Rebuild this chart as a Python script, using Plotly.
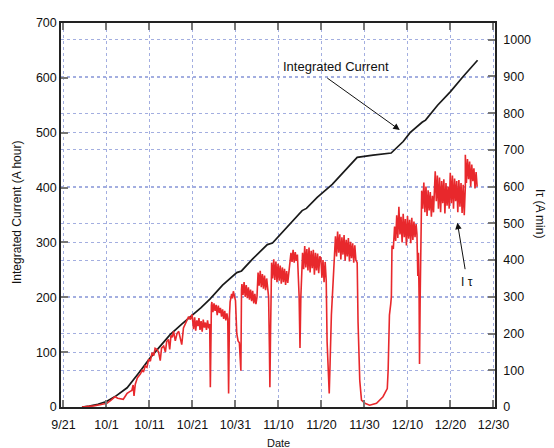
import plotly.graph_objects as go

# ---------------- data (days since 9/21) ----------------
tick_days = [0, 10, 20, 30, 40, 50, 60, 70, 80, 90, 100]
tick_labels = ["9/21", "10/1", "10/11", "10/21", "10/31", "11/10", "11/20", "11/30", "12/10", "12/20", "12/30"]

# Integrated current (A hour), left axis
int_days = [4.3, 6, 8, 10, 12, 14.8, 17.5, 20.2, 22.5, 24.8, 27.5, 30.2, 32, 34.1, 37, 40.3, 41.4,
            44, 47.4, 48.6, 50.7, 53, 55.5, 56.5, 59, 62.5, 65, 68.3, 72, 76.2, 79, 80.6, 83.4,
            84.2, 87, 90, 93, 96.3]
int_vals = [0, 1.5, 5, 10, 19, 35, 62, 90, 111, 132, 151, 168, 181, 197, 222, 245, 248,
            270, 296, 299, 317, 338, 358, 362, 382, 406, 428, 455, 459, 463, 484, 500, 519,
            523, 550, 575, 603, 632]

# I tau (A min), right axis -- ramp-up (explicit times)
ramp_days = [4.3, 5.5, 7.0, 8.5, 10.1, 11.0, 12.0, 12.6, 13.2, 13.9, 14.4, 14.8, 15.4, 15.9, 16.2,
             16.4, 16.7, 17.2, 17.9, 18.3, 18.6, 19.0, 19.4, 19.8, 20.2, 20.6, 21.0, 21.3, 21.7,
             22.1, 22.5, 22.8, 23.3, 23.7, 24.0, 24.4, 24.7, 25.0, 25.3, 25.6, 26.0, 26.4, 26.8,
             27.1, 27.5, 27.9, 28.3, 28.7, 29.1, 29.5, 29.9]
ramp_vals = [0, 1, 3, 6, 10, 18, 28, 24, 22, 21, 30, 37, 42, 45, 60,
             30, 62, 80, 90, 100, 95, 112, 108, 130, 125, 148, 140, 160, 157,
             150, 126, 160, 166, 150, 178, 184, 157, 195, 190, 206, 180, 200, 206,
             190, 170, 215, 224, 235, 246, 238, 252]

# noisy running bands: (start day, values every 0.25 day)
bandB_start, bandB = 30.0, [240, 212, 244, 208, 236, 220, 242, 210, 234, 205, 238, 216, 230, 210, 236, 214, 226]
gap1_days, gap1_vals = [34.15, 34.4], [54, 277]
bandC_start, bandC = 34.5, [286, 258, 282, 262, 278, 250, 276, 256, 270, 246, 266, 240, 262, 236, 255]
gap2_days = [38.2, 38.4, 38.6, 38.75, 39.1, 39.3, 39.5, 39.8, 40.0, 40.3, 40.6, 40.9, 41.1, 41.25, 41.4]
gap2_vals = [240, 37, 250, 286, 308, 296, 315, 300, 290, 200, 180, 175, 140, 99, 320]
bandD_start, bandD = 41.5, [335, 305, 340, 300, 332, 296, 326, 292, 320, 288, 316, 282, 308, 280]
gap3_days, gap3_vals = [45.0], [300]
bandD2_start, bandD2 = 45.25, [366, 330, 371, 326, 362, 322, 358, 318, 350, 325]
gap4_days, gap4_vals = [47.7, 47.9, 48.0, 48.15, 48.3], [300, 152, 54, 200, 348]
bandE_start, bandE = 48.4, [393, 350, 402, 346, 396, 340, 390, 344, 385, 336, 380, 340, 376, 332, 370, 338, 366]
bandE2_start, bandE2 = 52.9, [420, 395, 428, 393, 422, 398, 415]
gap5_days, gap5_vals = [54.8, 55.0, 55.2, 55.4], [300, 161, 300, 375]
bandF_start, bandF = 55.6, [420, 375, 438, 380, 430, 372, 434, 366, 425, 378, 428, 360, 420, 372, 418, 364, 410]
bandF2_start, bandF2 = 59.85, [406, 352, 400, 340, 395, 345]
gap6_days = [61.3, 61.6, 61.8, 62.0, 62.3, 62.7, 63.0]
gap6_vals = [179, 60, 37, 120, 250, 340, 420]
bandG_start, bandG = 63.25, [465, 410, 478, 420, 470, 402, 462, 415, 468, 398, 455, 410, 460, 396, 450, 405, 446, 393, 440, 400]
gap7_days = [68.3, 68.5, 68.9, 69.3, 70.1, 71.2, 72.8, 74.3, 75.3, 75.5, 75.6, 75.8, 76.1, 76.25, 76.4, 76.7]
gap7_vals = [393, 232, 72, 19, 10, 5, 10, 28, 50, 100, 170, 250, 280, 300, 440, 430]
bandH_start, bandH = 77.0, [491, 452, 522, 460, 545, 470, 518, 448, 526, 462, 512, 440, 520, 458, 510, 446, 515, 455, 505, 462, 498]
gap8_days = [82.2, 82.4, 82.55, 82.7, 82.8, 82.95, 83.1]
gap8_vals = [470, 357, 420, 300, 117, 300, 500]
bandI1_start, bandI1 = 83.3, [589, 540, 611, 530, 600, 520, 590, 535, 585, 518, 575, 530]
bandI2_start, bandI2 = 86.45, [642, 560, 630, 540, 625, 530, 615, 555, 620, 527, 610, 548, 600, 540]
bandI3_start, bandI3 = 89.95, [638, 555, 630, 540, 622, 560, 615, 530, 618, 545, 610, 528, 605, 522, 600]
bandI4_start, bandI4 = 93.45, [687, 610, 675, 620, 668, 600, 660, 615, 650, 595, 640, 600]

SAMPLE = 0.25


def run(start, vals):
    return [start + SAMPLE * i for i in range(len(vals))], list(vals)


pieces = [
    (ramp_days, ramp_vals),
    run(bandB_start, bandB), (gap1_days, gap1_vals),
    run(bandC_start, bandC), (gap2_days, gap2_vals),
    run(bandD_start, bandD), (gap3_days, gap3_vals),
    run(bandD2_start, bandD2), (gap4_days, gap4_vals),
    run(bandE_start, bandE), run(bandE2_start, bandE2), (gap5_days, gap5_vals),
    run(bandF_start, bandF), run(bandF2_start, bandF2), (gap6_days, gap6_vals),
    run(bandG_start, bandG), (gap7_days, gap7_vals),
    run(bandH_start, bandH), (gap8_days, gap8_vals),
    run(bandI1_start, bandI1), run(bandI2_start, bandI2),
    run(bandI3_start, bandI3), run(bandI4_start, bandI4),
]
itau_days, itau_vals = [], []
for d, v in pieces:
    itau_days += list(d)
    itau_vals += list(v)

# ---------------- figure ----------------
FONT = "Liberation Sans, Arial, sans-serif"
GRID = "#a3aee0"
TXT = "#111"

fig = go.Figure()
fig.add_trace(go.Scatter(x=int_days, y=int_vals, mode="lines",
                         line=dict(color="#1a1a1a", width=1.7), yaxis="y", showlegend=False))
fig.add_trace(go.Scatter(x=itau_days, y=itau_vals, mode="lines",
                         line=dict(color="#e8282c", width=1.6), yaxis="y2", showlegend=False))

axis_common = dict(showline=True, linecolor="#222", linewidth=1.5, ticks="inside",
                   ticklen=7, tickwidth=2, tickcolor="#777", zeroline=False,
                   showgrid=True, gridcolor=GRID, griddash="dot", gridwidth=1,
                   tickfont=dict(family=FONT, size=12.5, color=TXT))

# page body has an 8px margin -> compensate so the plot area lands where the reference's does
fig.update_layout(
    width=546, height=440,
    margin=dict(l=53, r=59, t=8, b=41),
    paper_bgcolor="white", plot_bgcolor="white",
    font=dict(family=FONT, color=TXT),
    xaxis=dict(range=[-0.58, 100.35], tickvals=tick_days, ticktext=tick_labels,
               mirror="ticks", ticklabelstandoff=5, **axis_common),
    yaxis=dict(range=[0, 700], tickvals=list(range(0, 701, 100)), **axis_common),
    yaxis2=dict(range=[0, 1045.5], tickvals=list(range(0, 1001, 100)), overlaying="y",
                side="right", ticklabelstandoff=4, **axis_common),
    annotations=[
        dict(text="Integrated Current (A hour)", xref="paper", yref="paper", x=0, y=0.5,
             xshift=-44, yshift=2, xanchor="center", yanchor="middle", textangle=-90,
             showarrow=False, font=dict(size=12, family=FONT, color=TXT)),
        dict(text="Iτ (A min)", xref="paper", yref="paper", x=1, y=0.5, yshift=2,
             xshift=45, xanchor="center", yanchor="middle", textangle=90,
             showarrow=False, font=dict(size=12, family=FONT, color=TXT)),
        dict(text="Date", xref="paper", yref="paper", x=0.5, y=0, yshift=-36,
             xanchor="center", yanchor="middle",
             showarrow=False, font=dict(size=11, family=FONT, color=TXT)),
        dict(text="Integrated Current", x=63.4, y=621, xref="x", yref="y",
             showarrow=False, font=dict(size=13, family=FONT, color=TXT)),
        dict(text="", x=78.2, y=505, xref="x", yref="y", ax=-74, ay=-53,
             showarrow=True, arrowhead=2, arrowsize=1.3, arrowwidth=1, arrowcolor=TXT),
        dict(text="I τ", x=93.8, y=227, xref="x", yref="y", showarrow=False,
             font=dict(size=12, family=FONT, color=TXT)),
        dict(text="", x=91.6, y=336, xref="x", yref="y", ax=8, ay=48,
             showarrow=True, arrowhead=2, arrowsize=1.3, arrowwidth=1, arrowcolor=TXT),
    ],
)

fig.write_html("out.html")
